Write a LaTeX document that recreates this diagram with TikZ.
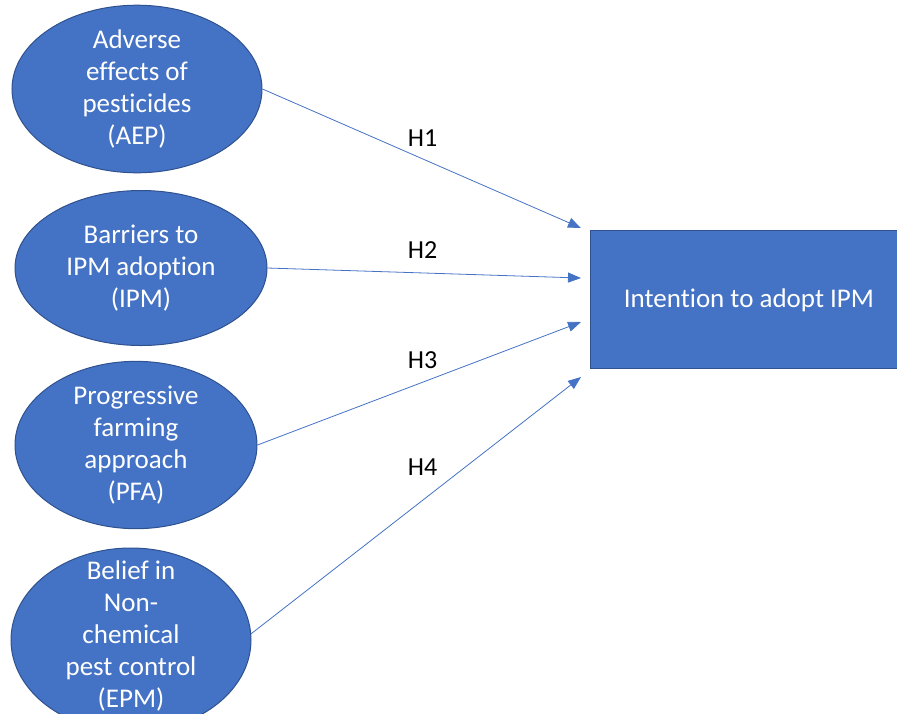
\documentclass[tikz,border=0pt]{standalone}
\usepackage{fontspec}
\setmainfont{Carlito}[Ligatures={NoCommon,NoContextual,NoRare}]
\usetikzlibrary{shapes.geometric,arrows.meta}
\definecolor{ofill}{HTML}{4472C4}
\definecolor{oline}{HTML}{2F528F}
\tikzset{
  oval/.style={ellipse, draw=oline, fill=ofill, line width=1pt, text=white, align=center,
    font=\fontsize{27}{32}\selectfont, inner sep=0pt},
  box/.style={rectangle, draw=oline, fill=ofill, line width=1pt},
  link/.style={draw=ofill, line width=0.8pt, -{Triangle[length=13pt,width=10pt]}},
  hlab/.style={font=\fontsize{26}{30}\selectfont, text=black}
}
\begin{document}
\begin{tikzpicture}[x=1pt,y=-1pt]
\useasboundingbox (0,0) rectangle (897,713);
\begin{scope}
\clip (0,0) rectangle (897,713);
\node[oval, minimum width=250pt, minimum height=156pt] (aep) at (137,89) {Adverse\\effects of\\pesticides\\(AEP)};
\node[oval, minimum width=252pt, minimum height=155pt] (ipm) at (141,268) {Barriers to\\IPM adoption\\(IPM)};
\node[oval, minimum width=242pt, minimum height=158pt] (pfa) at (136,445) {Progressive\\farming\\approach\\(PFA)};
\node[oval, minimum width=240pt, minimum height=184pt] (epm) at (131,640) {};
\node[align=center, text=white, font=\fontsize{27}{32}\selectfont] (epmlab) at (131,636) {Belief in\\Non-\\chemical\\pest control\\(EPM)};
\node[box, minimum width=330pt, minimum height=138pt, anchor=west] (int) at (590,299) {};
\node[font=\fontsize{27}{32}\selectfont, text=white] (intlab) at (749,300) {Intention to adopt IPM};
\end{scope}
\coordinate (t1) at (581,228);
\coordinate (t2) at (581,278);
\coordinate (t3) at (581,322);
\coordinate (t4) at (581,377);
\draw[link] (aep.0) -- (t1);
\draw[link] (ipm.0) -- (t2);
\draw[link] (pfa.0) -- (t3);
\draw[link] (epm.3) -- (t4);
\node[hlab] (h1) at (422.5,138) {H1};
\node[hlab] (h2) at (422.5,250) {H2};
\node[hlab] (h3) at (422.5,360) {H3};
\node[hlab] (h4) at (422.5,467) {H4};
\end{tikzpicture}
\end{document}
